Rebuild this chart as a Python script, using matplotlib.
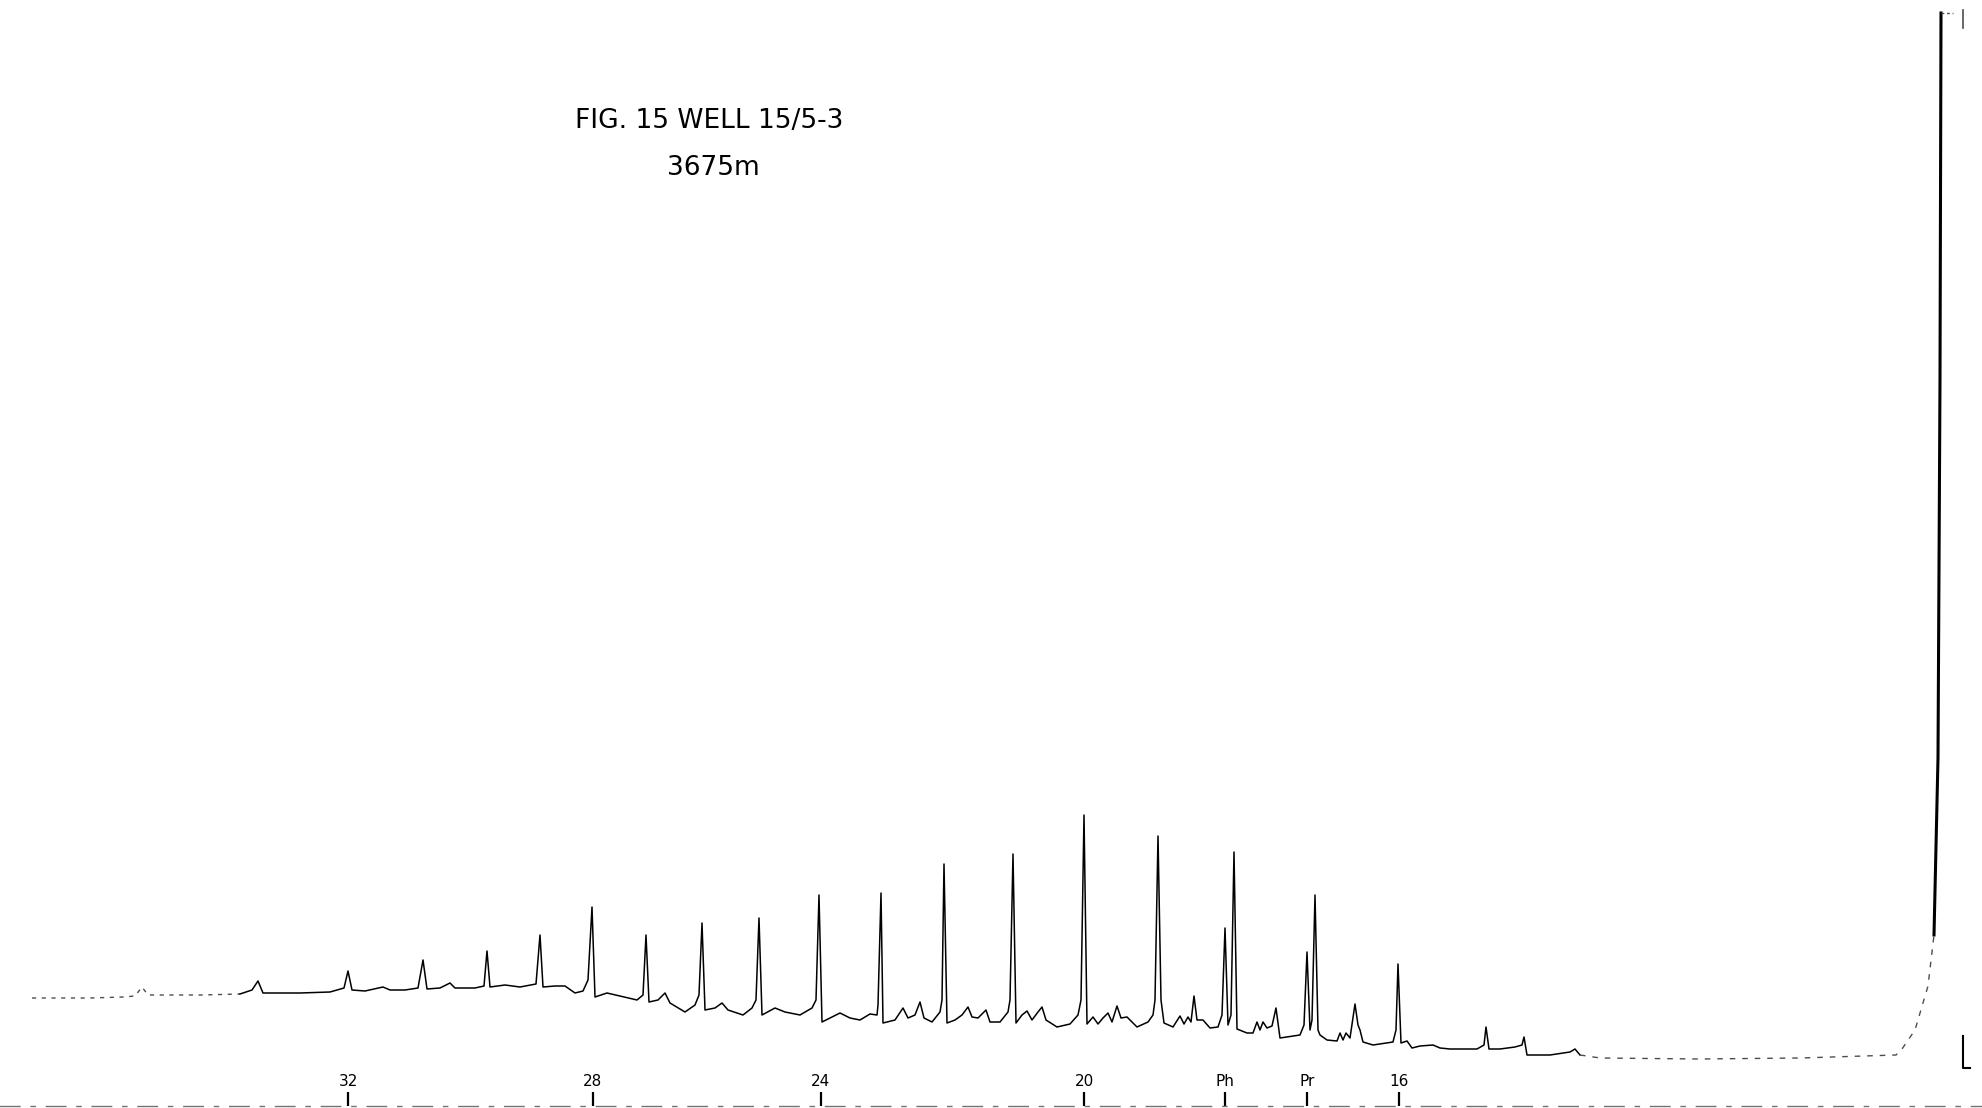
import numpy as np
import matplotlib.pyplot as plt

# Gas chromatogram trace.
# x: distance along the chart from its left edge (mm)
# y: pen height above the chart base line (mm)
trace_x = [
    3.2, 9.0, 12.3, 13.5, 14.2, 14.8, 20.0, 24.0, 25.2, 25.8, 26.3, 30.0, 33.0,
    34.4, 34.8, 35.2, 36.5, 38.3, 39.0, 40.5, 41.8, 42.3, 42.7, 44.0, 45.0, 45.5,
    47.5, 48.4, 48.7, 49.0, 50.5, 52.0, 53.6, 54.0, 54.3, 55.5, 56.5, 57.5, 58.3,
    58.8, 59.2, 59.5, 60.7, 62.0, 63.7, 64.3, 64.6, 64.9, 65.8, 66.5, 67.0, 68.5,
    69.5, 69.9, 70.2, 70.5, 71.5, 72.2, 72.8, 74.3, 75.2, 75.6, 75.9, 76.2, 77.5,
    78.5, 80.0, 81.2, 81.6, 81.9, 82.2, 84.0, 85.0, 86.0, 87.0, 87.7, 87.8, 88.1,
    88.3, 89.5, 90.3, 90.8, 91.5, 92.0, 92.4, 93.2, 94.0, 94.2, 94.4, 94.7, 95.5,
    96.2, 96.8, 97.2, 97.8, 98.6, 99.0, 100.0, 100.8, 101.0, 101.3, 101.6, 102.2,
    102.7, 103.2, 103.8, 104.2, 104.6, 105.7, 107.0, 107.8, 108.1, 108.4, 108.7,
    109.3, 109.8, 110.3, 110.8, 111.2, 111.7, 112.1, 112.7, 113.7, 114.8, 115.3,
    115.5, 115.8, 116.1, 116.4, 117.3, 118.0, 118.4, 118.8, 119.1, 119.4, 119.7,
    120.3, 121.0, 121.8, 122.2, 122.5, 122.8, 123.1, 123.4, 123.7, 124.7, 125.3,
    125.7, 126.0, 126.3, 126.7, 127.2, 127.6, 128.0, 130.0, 130.4, 130.7, 131.0,
    131.2, 131.5, 131.8, 132.0, 132.7, 133.7, 134.0, 134.3, 134.6, 135.0, 135.5,
    135.8, 136.0, 136.3, 137.3, 139.3, 139.6, 139.8, 140.1, 140.7, 141.2, 142.0,
    143.3, 144.0, 145.0, 147.7, 148.4, 148.6, 148.9, 150.0, 151.5, 152.2, 152.4,
    152.7, 155.0, 157.0, 157.5, 158.0, 160.0, 170.0, 180.0, 189.6, 190.2, 191.5,
    192.8, 193.4, 193.8, 194.0, 194.1,
]
trace_y = [
    10.8, 10.8, 10.9, 11.0, 11.9, 11.1, 11.1, 11.2, 11.6, 12.5, 11.3, 11.3, 11.4,
    11.8, 13.5, 11.6, 11.5, 11.9, 11.6, 11.6, 11.8, 14.6, 11.7, 11.8, 12.3, 11.8,
    11.8, 12.0, 15.5, 11.9, 12.1, 11.9, 12.2, 17.1, 11.9, 12.0, 12.0, 11.3, 11.5,
    12.6, 19.9, 10.9, 11.3, 11.0, 10.6, 11.1, 17.1, 10.4, 10.6, 11.3, 10.3, 9.4,
    10.1, 11.1, 18.3, 9.6, 9.8, 10.3, 9.6, 9.1, 9.8, 10.6, 18.8, 9.1, 9.8,
    9.4, 9.1, 9.8, 10.6, 21.1, 8.4, 9.3, 8.8, 8.6, 9.2, 9.1, 10.1, 21.3,
    8.3, 8.6, 9.8, 8.8, 9.1, 10.4, 8.8, 8.4, 9.4, 10.6, 24.2, 8.3, 8.6,
    9.1, 9.9, 8.9, 8.8, 9.6, 8.4, 8.4, 9.4, 10.6, 25.2, 8.3, 9.1,
    9.5, 8.6, 9.4, 9.9, 8.6, 7.9, 8.2, 9.1, 10.6, 29.1, 8.2,
    8.9, 8.2, 8.8, 9.3, 8.4, 10.0, 8.8, 8.9, 7.9, 8.4, 9.1,
    10.6, 27.0, 10.6, 8.3, 7.9, 9.0, 8.2, 8.9, 8.4, 11.0, 8.6,
    8.6, 7.8, 7.9, 9.1, 17.8, 8.1, 9.1, 25.4, 7.7, 7.3, 7.3,
    8.4, 7.6, 8.4, 7.8, 8.0, 9.8, 6.8, 7.1, 8.1, 15.4, 7.6,
    8.6, 21.1, 7.6, 7.1, 6.6, 6.5, 7.3, 6.6, 7.3, 6.8, 10.2,
    8.1, 7.6, 6.4, 6.1, 6.4, 7.6, 14.2, 6.3, 6.5, 5.8, 6.0,
    6.1, 5.8, 5.7, 5.7, 6.1, 7.9, 5.7, 5.7, 5.9, 6.1, 6.9,
    5.1, 5.1, 5.4, 5.7, 5.1, 4.8, 4.7, 4.8, 5.1, 5.7, 7.6,
    12.0, 17.1, 34.8, 72.7, 109.3,
]

# off-scale pen marks at the solvent peak
pen_top_x = [194.1, 195.3]
pen_top_y = [109.3, 109.3]
pen_tick_x = [196.3, 196.3]
pen_tick_y = [109.6, 107.8]
pen_end_x = [196.3, 196.3, 197.0]
pen_end_y = [7.0, 3.8, 3.8]

# peak identifications along the base line
peak_labels = ["32", "28", "24", "20", "Ph", "Pr", "16"]
peak_marks = [34.8, 59.3, 82.1, 108.4, 122.5, 130.7, 139.9]

faint_left = 24.0      # trace is faint / broken left of this
faint_right = 158.0    # and right of this, up to the solvent peak
solvent_start = 193.4

x = np.array(trace_x)
y = np.array(trace_y)

fig = plt.figure(figsize=(19.82, 11.08), dpi=100)
ax = fig.add_axes([0, 2 / 1108, 1, 1106 / 1108])

m1 = x <= faint_left
m2 = (x >= faint_left) & (x <= faint_right)
m3 = (x >= faint_right) & (x <= solvent_start)
m4 = x >= solvent_start
ax.plot(x[m1], y[m1], color='0.3', lw=1.0, ls=(0, (3, 4)))
ax.plot(x[m2], y[m2], color='black', lw=1.1)
ax.plot(x[m3], y[m3], color='0.3', lw=1.0, ls=(0, (4, 5)))
ax.plot(x[m4], y[m4], color='black', lw=2.2)
ax.plot(pen_top_x, pen_top_y, color='0.3', lw=1.0, ls=(0, (2, 2)))
ax.plot(pen_tick_x, pen_tick_y, color='0.3', lw=1.2)
ax.plot(pen_end_x, pen_end_y, color='black', lw=1.5)

ax.set_xlim(0, 198.2)
ax.set_ylim(0, 110.6)

# base line with the peak marks, labels sit above the marks
for side in ['top', 'left', 'right']:
    ax.spines[side].set_visible(False)
ax.spines['bottom'].set_color('0.45')
ax.spines['bottom'].set_linewidth(1.0)
ax.spines['bottom'].set_linestyle((0, (14, 8, 3, 8)))
ax.set_yticks([])
ax.set_xticks(peak_marks, peak_labels)
ax.tick_params(axis='x', direction='in', length=10, width=1.6, color='black',
               pad=-23, labelsize=11)

fig.text(0.358, 0.891, "FIG. 15 WELL 15/5-3", ha='center', va='center',
         fontsize=19)
fig.text(0.360, 0.848, "3675m", ha='center', va='center', fontsize=19)

fig.savefig('out.png', dpi=100)
